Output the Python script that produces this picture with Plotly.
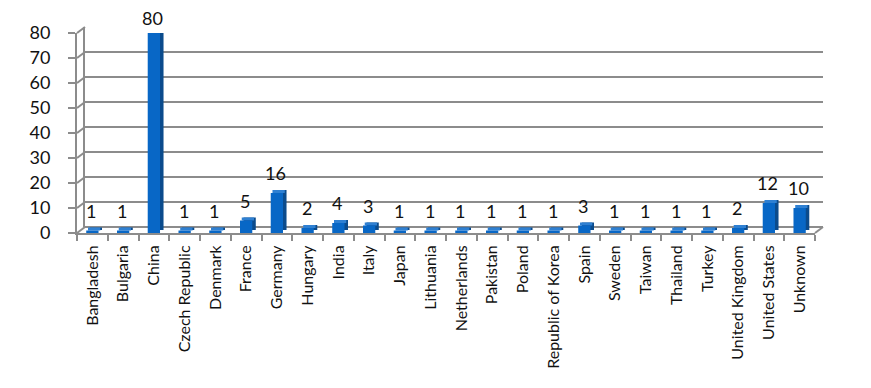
import plotly.graph_objects as go

countries = ["Bangladesh", "Bulgaria", "China", "Czech Republic", "Denmark", "France",
             "Germany", "Hungary", "India", "Italy", "Japan", "Lithuania", "Netherlands",
             "Pakistan", "Poland", "Republic of Korea", "Spain", "Sweden", "Taiwan",
             "Thailand", "Turkey", "United Kingdom", "United States", "Unknown"]
counts = [1, 1, 80, 1, 1, 5, 16, 2, 4, 3, 1, 1, 1, 1, 1, 1, 3, 1, 1, 1, 1, 2, 12, 10]
y_ticks = [0, 10, 20, 30, 40, 50, 60, 70, 80]

# the page body has an 8px margin, so the figure is shrunk and margins are reduced by 8px
BODY = 8
W, H = 871 - BODY, 388 - BODY
ML, MR, MT, MB = 77 - BODY, 48, 26 - BODY, 155
PW = W - ML - MR          # 746
PH = H - MT - MB          # 207
DX, DY = 8, 6             # 3D wall offset in px
FRONT_W = PW - DX
FRONT_H = PH - DY - 1
GRAY = "#8c8c8c"
FONT = "Lato"
LABEL_SIZE = 18

n = len(countries)
px_per_unit = FRONT_H / 80.0
cat_px = FRONT_W / n
bar_w = 0.40
depth_x = 3.5 / cat_px
depth_y = 3.0 / px_per_unit

fig = go.Figure()

# back wall (subplot xy, drawn first so bars sit on top of its gridlines)
fig.add_trace(go.Scatter(x=[countries[0]], y=[0], mode="markers", marker=dict(opacity=0),
                         hoverinfo="skip", showlegend=False, xaxis="x", yaxis="y"))

# bar side / depth
fig.add_trace(go.Bar(x=countries, y=counts, base=[depth_y] * n, width=bar_w,
                     offset=-bar_w / 2 + depth_x, marker=dict(color="#0b4b8c", line=dict(width=0)),
                     xaxis="x2", yaxis="y2", showlegend=False, hoverinfo="skip"))
# bar top
fig.add_trace(go.Bar(x=countries, y=[depth_y] * n, base=counts, width=bar_w,
                     offset=-bar_w / 2 + depth_x / 2, marker=dict(color="#2f80d2", line=dict(width=0)),
                     xaxis="x2", yaxis="y2", showlegend=False, hoverinfo="skip"))
# bar front
fig.add_trace(go.Bar(x=countries, y=counts, width=bar_w, offset=-bar_w / 2,
                     marker=dict(color="#0867c6", line=dict(width=0)),
                     xaxis="x2", yaxis="y2", showlegend=False))


def label_shift(v):
    # keep the label box inside the figure at the top
    top_px = MT + (PH - FRONT_H) + (80 - v) * px_per_unit
    room = top_px - LABEL_SIZE * 1.2 - 0.5
    return max(0, min(8, room))


annotations = [dict(x=c, y=v, xref="x2", yref="y2", text=str(v), showarrow=False,
                    yanchor="bottom", yshift=label_shift(v), xshift=-1, borderpad=0,
                    font=dict(family=FONT, size=LABEL_SIZE, color="#111111"))
               for c, v in zip(countries, counts)]

shapes = []
for v in y_ticks:
    y0 = (v / 80.0) * FRONT_H / PH
    y1 = (DY + (v / 80.0) * FRONT_H) / PH
    shapes.append(dict(type="line", xref="paper", yref="paper", x0=0, y0=y0, x1=DX / PW, y1=y1,
                       line=dict(color=GRAY, width=2), layer="below"))
shapes.append(dict(type="line", xref="paper", yref="paper", x0=FRONT_W / PW, y0=0, x1=1, y1=DY / PH,
                   line=dict(color=GRAY, width=2), layer="below"))

fig.update_layout(
    width=W, height=H,
    margin=dict(l=ML, r=MR, t=MT, b=MB, autoexpand=False),
    paper_bgcolor="white", plot_bgcolor="rgba(0,0,0,0)",
    barmode="overlay", showlegend=False,
    font=dict(family=FONT, color="#111111"),
    xaxis=dict(domain=[DX / PW, 1], range=[-0.5, n - 0.5], type="category",
               categoryorder="array", categoryarray=countries, automargin=False,
               showgrid=False, showticklabels=False, showline=False, zeroline=False,
               ticks="", anchor="y", fixedrange=True),
    yaxis=dict(domain=[DY / PH, (DY + FRONT_H) / PH], range=[0, 80], tickvals=y_ticks,
               showgrid=True, gridcolor=GRAY, gridwidth=2, zeroline=True, zerolinecolor=GRAY,
               zerolinewidth=2, showline=True, linecolor=GRAY, linewidth=2, automargin=False,
               showticklabels=False, ticks="", anchor="x", fixedrange=True),
    xaxis2=dict(domain=[0, FRONT_W / PW], range=[-0.5, n - 0.5], type="category",
                categoryorder="array", categoryarray=countries, anchor="y2", automargin=False,
                showgrid=False, zeroline=False, showline=True, linecolor=GRAY, linewidth=2,
                ticks="outside", tickson="boundaries", ticklen=6, tickcolor=GRAY, tickwidth=2,
                tickangle=-90, ticklabelstandoff=4,
                tickfont=dict(family=FONT, size=16, color="#111111"), fixedrange=True),
    yaxis2=dict(domain=[0, FRONT_H / PH], range=[0, 80], tickvals=y_ticks, anchor="x2",
                showgrid=False, zeroline=False, showline=True, linecolor=GRAY, linewidth=2,
                ticks="outside", ticklen=7, tickcolor=GRAY, tickwidth=2, ticklabelstandoff=14,
                automargin=False,
                tickfont=dict(family=FONT, size=18, color="#111111"), fixedrange=True),
    annotations=annotations,
    shapes=shapes,
)

fig.write_html("out.html")
